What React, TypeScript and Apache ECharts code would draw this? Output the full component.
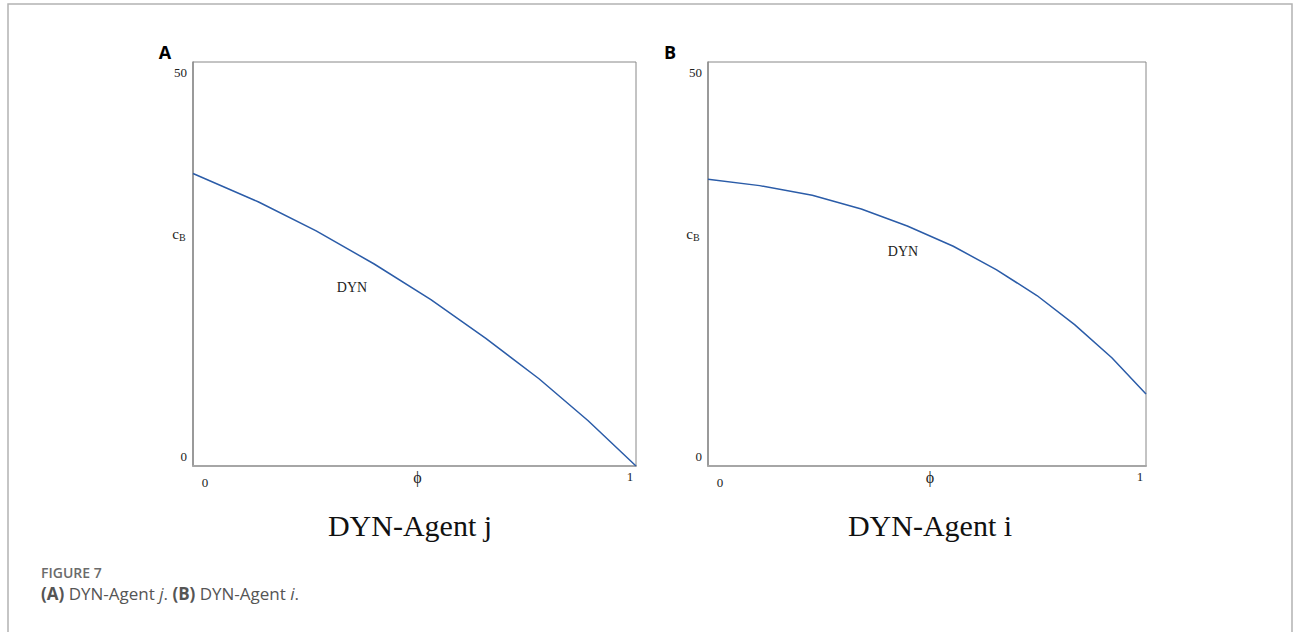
import React, { useEffect, useRef } from "react";
import * as echarts from "echarts";

// Panel A: DYN-Agent j
const phiA = [0, 0.147, 0.278, 0.409, 0.537, 0.661, 0.781, 0.892, 1.0];
const cbA = [36.2, 32.7, 29.1, 25.0, 20.6, 15.8, 10.8, 5.6, 0];

// Panel B: DYN-Agent i
const phiB = [0, 0.118, 0.238, 0.35, 0.455, 0.56, 0.658, 0.751, 0.837, 0.922, 1.0];
const cbB = [35.5, 34.7, 33.5, 31.8, 29.7, 27.2, 24.3, 21.1, 17.5, 13.4, 8.9];

const xTicks = [0, 1];
const yTicks = [0, 50];
const panelTitles = ["DYN-Agent j", "DYN-Agent i"];
const panelLetters = ["A", "B"];
const curveLabel = "DYN";

const SERIF = "'Liberation Serif', 'Times New Roman', serif";
const SANS = "'Open Sans', 'Noto Sans', sans-serif";

export default function App() {
  const ref = useRef<HTMLDivElement>(null);
  useEffect(() => {
    if (!ref.current) return;
    const chart = echarts.init(ref.current, undefined, { renderer: "svg" });

    const grids = [
      { left: 193, top: 62, width: 443, height: 404 },
      { left: 708, top: 62, width: 438, height: 404 },
    ];

    const xAxisCfg = (gi: number) => ({
      type: "value",
      gridIndex: gi,
      min: xTicks[0],
      max: xTicks[xTicks.length - 1],
      interval: 1,
      name: "ϕ",
      nameLocation: "middle",
      nameGap: 3,
      nameMoveOverlap: false,
      nameTextStyle: { fontFamily: SERIF, fontSize: 16, color: "#222", padding: [0, 0, 0, 6], verticalAlign: "top" },
      axisLine: { show: true, lineStyle: { color: "#a6a6a6", width: 2 } },
      axisTick: { show: false },
      splitLine: { show: false },
      axisLabel: {
        margin: 4,
        fontFamily: SERIF,
        fontSize: 13,
        color: "#222",
        formatter: (v: number) => (v === xTicks[0] ? "{mn|" + v + "}" : "{mx|" + v + "}"),
        rich: {
          mn: { fontFamily: SERIF, fontSize: 13, color: "#222", padding: [6, 0, 0, 24] },
          mx: { fontFamily: SERIF, fontSize: 13, color: "#222", padding: [0, 12, 0, 0] },
        },
      },
    });

    const yAxisCfg = (gi: number) => ({
      type: "value",
      gridIndex: gi,
      min: yTicks[0],
      max: yTicks[yTicks.length - 1],
      interval: 50,
      axisLine: { show: true, lineStyle: { color: "#8c8c8c", width: 1.5 } },
      axisTick: { show: false },
      splitLine: { show: false },
      axisLabel: {
        margin: 6,
        fontFamily: SERIF,
        fontSize: 13,
        color: "#222",
        formatter: (v: number) => (v === yTicks[0] ? "{mn|" + v + "}" : "{mx|" + v + "}"),
        rich: {
          mn: { fontFamily: SERIF, fontSize: 13, color: "#222", padding: [0, 0, 20, 0] },
          mx: { fontFamily: SERIF, fontSize: 13, color: "#222", padding: [20, 0, 0, 0] },
        },
      },
    });

    const cbText = (x: number, y: number) => ({
      type: "text",
      x,
      y,
      style: {
        text: "{c|c}{s|B}",
        fontSize: 15,
        fontFamily: SERIF,
        rich: {
          c: { fontSize: 15, fontFamily: SERIF, fill: "#222" },
          s: { fontSize: 10, fontFamily: SERIF, fill: "#222", padding: [6, 0, 0, 0] },
        },
        align: "center",
        verticalAlign: "middle",
      },
    });

    const option: any = {
      animation: false,
      backgroundColor: "#fff",
      grid: grids.map((g) => ({ ...g, show: true, borderColor: "#888", borderWidth: 1, containLabel: false })),
      xAxis: [xAxisCfg(0), xAxisCfg(1)],
      yAxis: [yAxisCfg(0), yAxisCfg(1)],
      series: [
        {
          type: "line",
          xAxisIndex: 0,
          yAxisIndex: 0,
          data: phiA.map((p, i) => [p, cbA[i]]),
          symbol: "none",
          lineStyle: { color: "#2b5ca8", width: 1.5 },
        },
        {
          type: "line",
          xAxisIndex: 1,
          yAxisIndex: 1,
          data: phiB.map((p, i) => [p, cbB[i]]),
          symbol: "none",
          lineStyle: { color: "#2b5ca8", width: 1.5 },
        },
      ],
      graphic: [
        {
          type: "rect",
          shape: { x: 8, y: 4, width: 1284, height: 700 },
          style: { fill: "none", stroke: "#b3b3b3", lineWidth: 1.5 },
          silent: true,
        },
        {
          type: "text",
          x: 165,
          y: 52,
          style: { text: panelLetters[0], font: "bold 18px " + SANS, fill: "#000", align: "center", verticalAlign: "middle" },
        },
        {
          type: "text",
          x: 670,
          y: 52,
          style: { text: panelLetters[1], font: "bold 18px " + SANS, fill: "#000", align: "center", verticalAlign: "middle" },
        },
        cbText(179, 234),
        cbText(693, 234),
        {
          type: "text",
          x: 352,
          y: 287,
          style: { text: curveLabel, font: "14px " + SERIF, fill: "#222", align: "center", verticalAlign: "middle" },
        },
        {
          type: "text",
          x: 903,
          y: 251,
          style: { text: curveLabel, font: "14px " + SERIF, fill: "#222", align: "center", verticalAlign: "middle" },
        },
        {
          type: "text",
          x: 410,
          y: 525,
          style: { text: panelTitles[0], font: "30px " + SERIF, fill: "#111", align: "center", verticalAlign: "middle" },
        },
        {
          type: "text",
          x: 930,
          y: 525,
          style: { text: panelTitles[1], font: "30px " + SERIF, fill: "#111", align: "center", verticalAlign: "middle" },
        },
        {
          type: "text",
          x: 41,
          y: 572,
          style: { text: "FIGURE 7", font: "600 14px " + SANS, fill: "#6b6b6b", align: "left", verticalAlign: "middle" },
        },
        {
          type: "text",
          x: 41,
          y: 593,
          style: {
            text: "{b|(A)} {n|DYN-Agent }{i|j}{n|. }{b|(B)} {n|DYN-Agent }{i|i}{n|.}",
            fontSize: 17,
            fontFamily: SANS,
            align: "left",
            verticalAlign: "middle",
            rich: {
              b: { fontSize: 17, fontFamily: SANS, fontWeight: "bold", fill: "#555" },
              n: { fontSize: 17, fontFamily: SANS, fill: "#555" },
              i: { fontSize: 17, fontFamily: SANS, fontStyle: "italic", fill: "#555" },
            },
          },
        },
      ],
    };

    chart.setOption(option);
    return () => chart.dispose();
  }, []);

  return (
    <div
      ref={ref}
      style={{ position: "fixed", left: 0, top: 0, width: 1293, height: 632, background: "#fff" }}
    />
  );
}
